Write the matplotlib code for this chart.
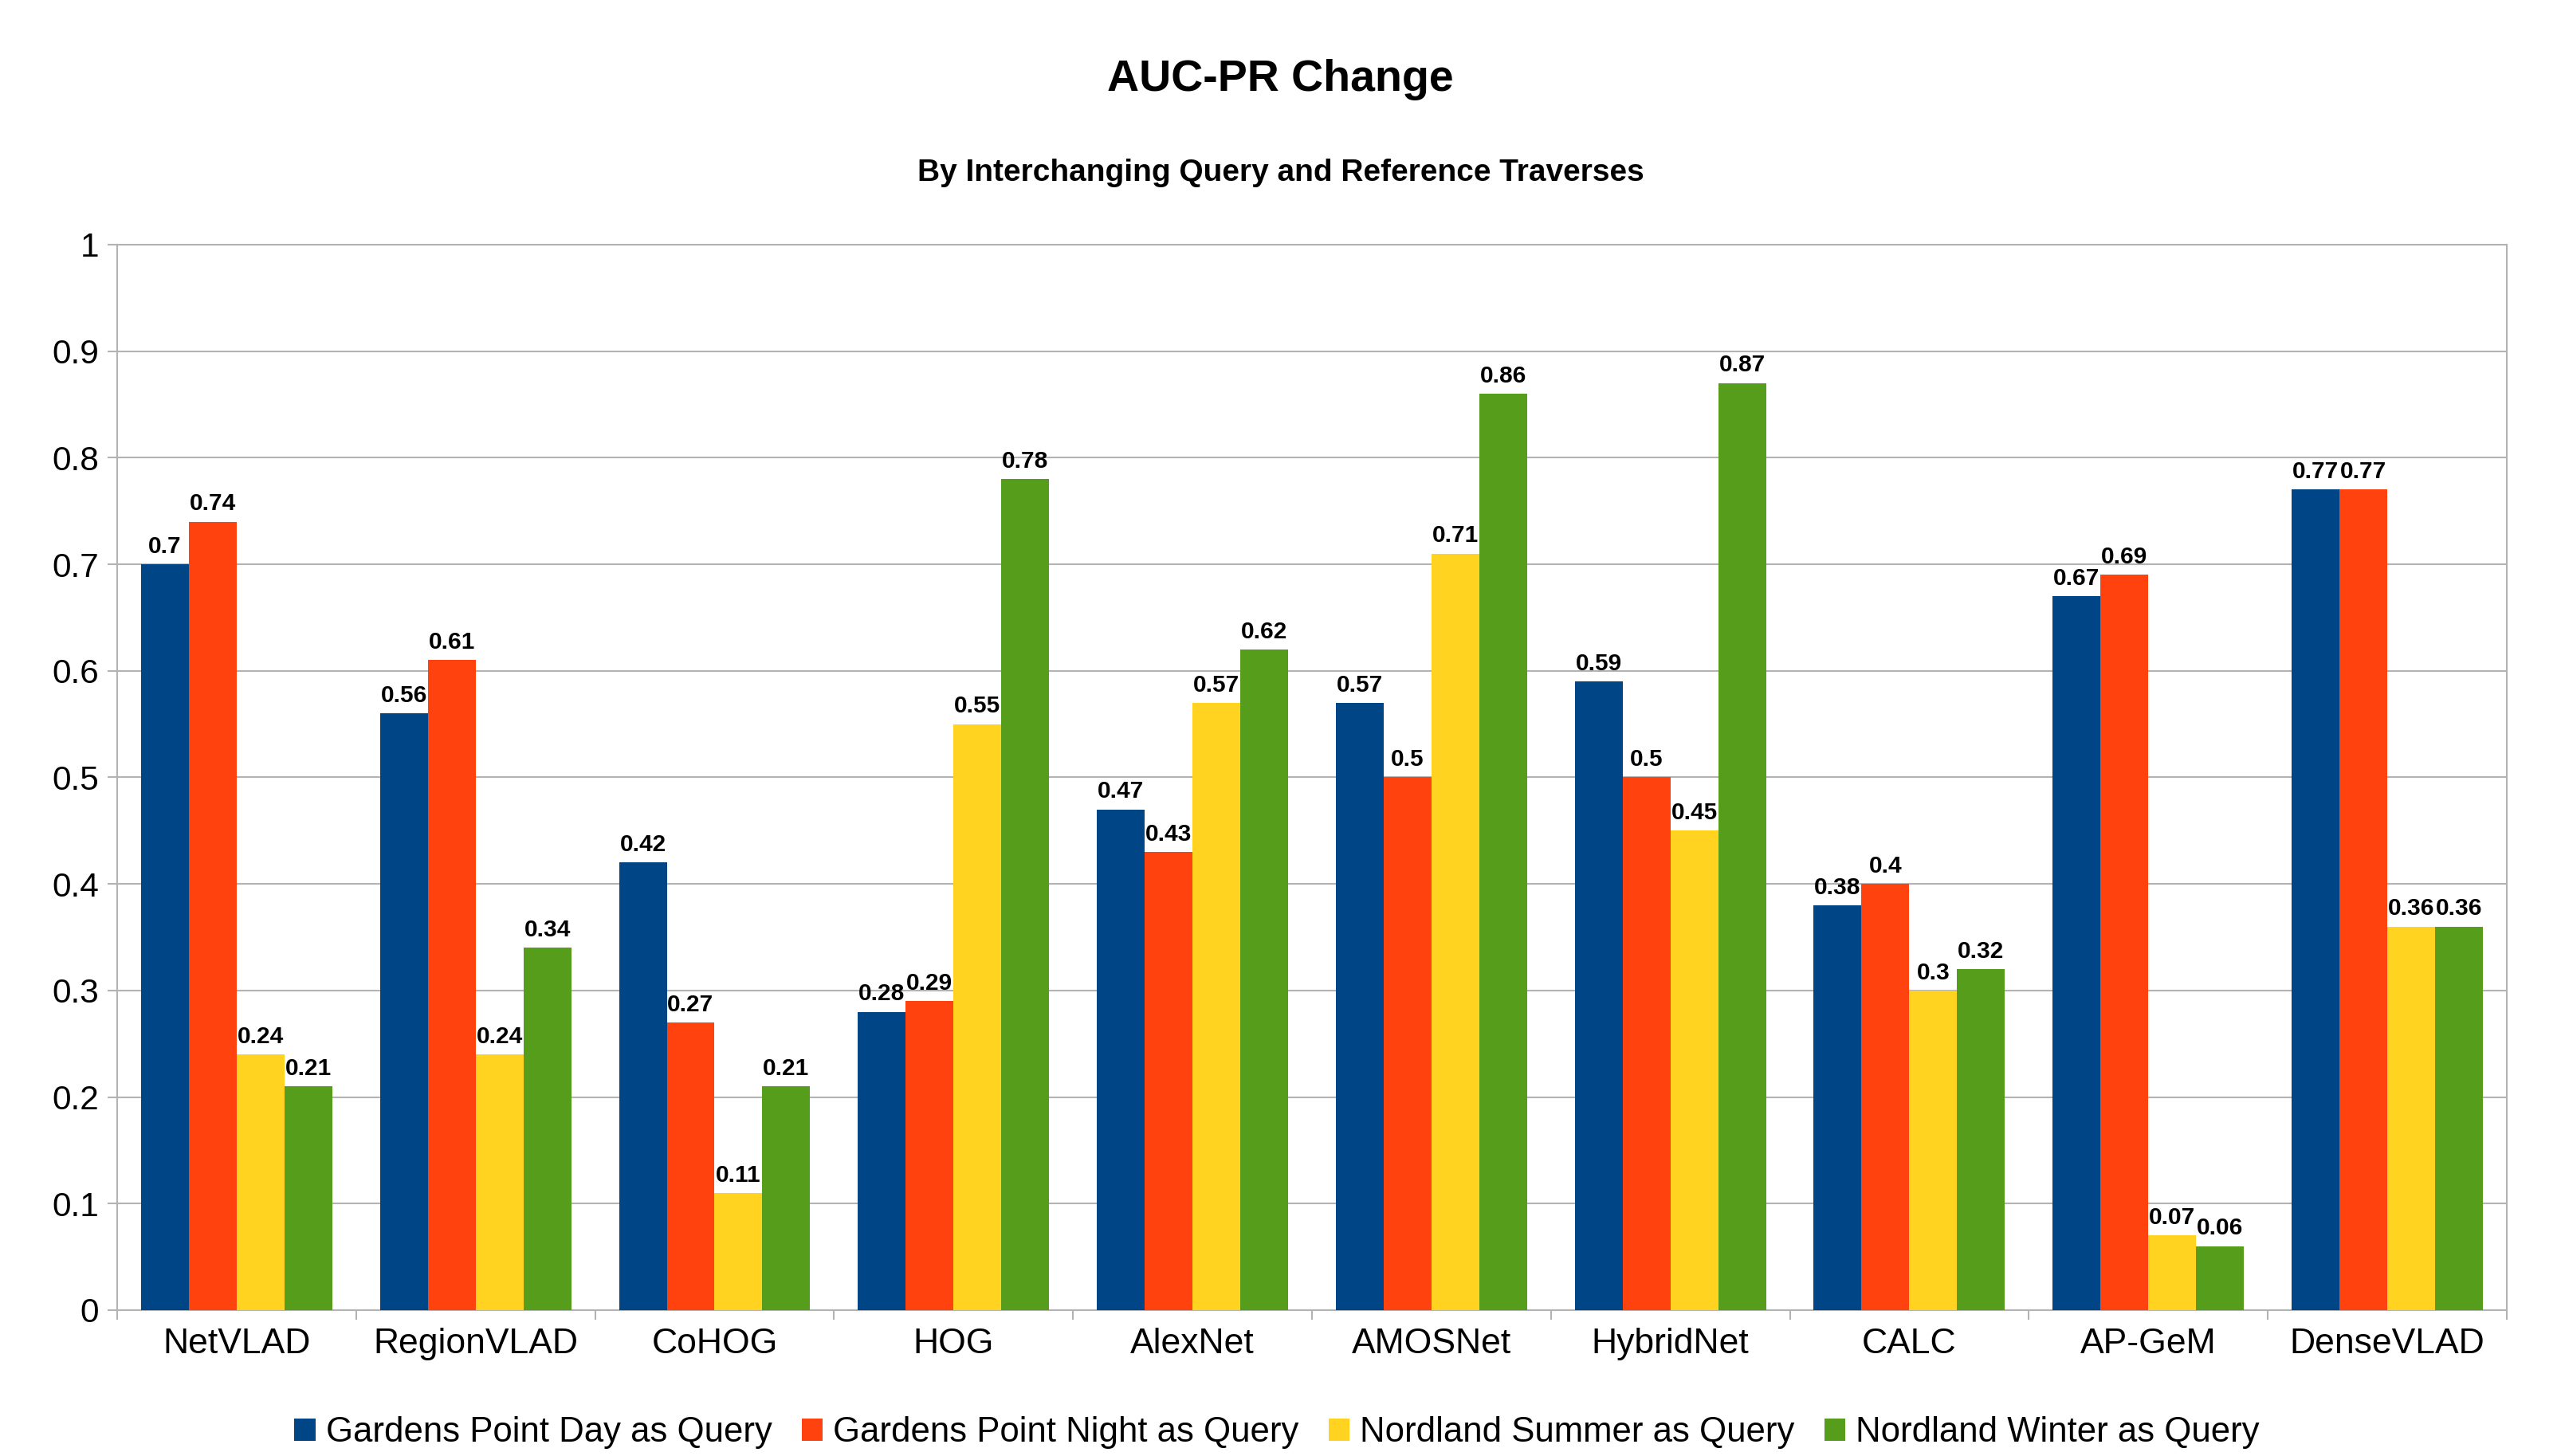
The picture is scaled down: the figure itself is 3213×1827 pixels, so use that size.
import matplotlib.pyplot as plt
import numpy as np
from matplotlib.ticker import FuncFormatter, MultipleLocator

plt.rcParams['font.family'] = ['Liberation Sans', 'DejaVu Sans']

methods = ['NetVLAD', 'RegionVLAD', 'CoHOG', 'HOG', 'AlexNet', 'AMOSNet',
           'HybridNet', 'CALC', 'AP-GeM', 'DenseVLAD']
series_names = ['Gardens Point Day as Query', 'Gardens Point Night as Query',
                'Nordland Summer as Query', 'Nordland Winter as Query']
gp_day = [0.7, 0.56, 0.42, 0.28, 0.47, 0.57, 0.59, 0.38, 0.67, 0.77]
gp_night = [0.74, 0.61, 0.27, 0.29, 0.43, 0.5, 0.5, 0.4, 0.69, 0.77]
nl_summer = [0.24, 0.24, 0.11, 0.55, 0.57, 0.71, 0.45, 0.3, 0.07, 0.36]
nl_winter = [0.21, 0.34, 0.21, 0.78, 0.62, 0.86, 0.87, 0.32, 0.06, 0.36]
colors = ['#004586', '#ff420e', '#ffd320', '#579d1c']

grid_col = '#b3b3b3'

fig = plt.figure(figsize=(32.13, 18.27), dpi=100)
ax = fig.add_axes([0.04575, 0.1002, 0.9788 - 0.04575, 0.832 - 0.1002])

x = np.arange(len(methods))
w = 0.2
all_series = [gp_day, gp_night, nl_summer, nl_winter]
for i, (vals, name, c) in enumerate(zip(all_series, series_names, colors)):
    pos = x + (i - 1.5) * w
    bars = ax.bar(pos, vals, width=w, color=c, label=name, zorder=3)
    for b, v in zip(bars, vals):
        ax.annotate('{:g}'.format(v), (b.get_x() + b.get_width() / 2, v),
                    xytext=(0, 6), textcoords='offset points',
                    ha='center', va='bottom', fontsize=21.5, fontweight='bold')

ax.set_xlim(-0.5, len(methods) - 0.5)
ax.set_ylim(0, 1)
ax.yaxis.set_major_locator(MultipleLocator(0.1))
ax.yaxis.set_major_formatter(FuncFormatter(lambda v, p: '{:g}'.format(round(v, 2))))
ax.grid(axis='y', color=grid_col, linewidth=1.5, zorder=0)

ax.set_xticks(x)
ax.set_xticklabels(methods)
ax.set_xticks(np.arange(len(methods) + 1) - 0.5, minor=True)
ax.tick_params(axis='x', which='major', length=0, pad=16, labelsize=32)
ax.tick_params(axis='x', which='minor', length=8.6, width=1.5, color=grid_col)
ax.tick_params(axis='y', length=8.6, width=1.5, color=grid_col, pad=8, labelsize=30.5)

for s in ax.spines.values():
    s.set_color(grid_col)
    s.set_linewidth(1.5)

fig.text(0.5, 0.945, 'AUC-PR Change', ha='center', va='center',
         fontsize=40, fontweight='bold')
fig.text(0.5, 0.881, 'By Interchanging Query and Reference Traverses',
         ha='center', va='center', fontsize=28, fontweight='bold')

fig.legend(loc='center', bbox_to_anchor=(0.4986, 0.016), ncol=4, frameon=False,
           fontsize=31.5, handlelength=0.6, handleheight=0.6,
           handletextpad=0.3, columnspacing=0.85)

fig.savefig('out.png', dpi=100)
